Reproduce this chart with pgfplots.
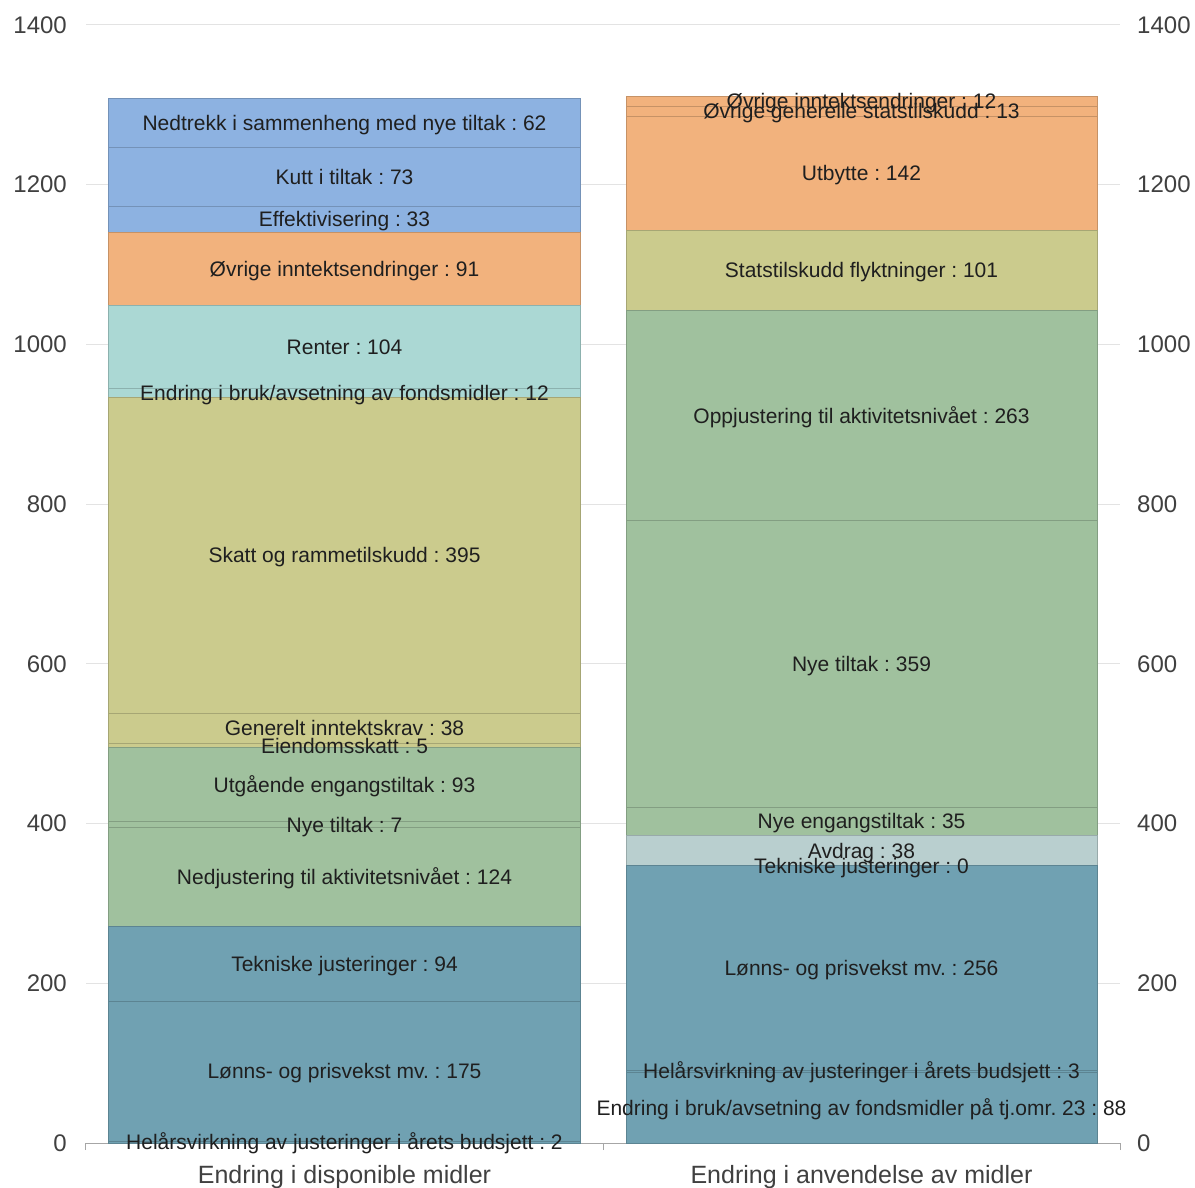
\documentclass[border=0pt]{standalone}
\usepackage{fontspec}
\setmainfont{Liberation Sans}
\usepackage{pgfplots}
\pgfplotsset{compat=1.18}
\frenchspacing
\definecolor{cSteel}{RGB}{112,161,178}
\definecolor{cGreen}{RGB}{160,193,158}
\definecolor{cYellow}{RGB}{203,203,141}
\definecolor{cTeal}{RGB}{171,216,212}
\definecolor{cOrange}{RGB}{242,178,125}
\definecolor{cBlue}{RGB}{141,178,225}
\definecolor{cGrey}{RGB}{185,207,207}
\definecolor{tickc}{RGB}{64,64,64}
\tikzset{
  seg/.style={fill=#1, draw=#1!82!black, line width=1pt},
  lbl/.style={font=\fontsize{21}{25}\selectfont, text=black!88, anchor=base, inner sep=0pt, yshift=-7.3pt}
}
\begin{document}
\begin{tikzpicture}
\path[use as bounding box] (-86pt,-44pt) rectangle (1109pt,1143pt);
\begin{axis}[
  clip=false,
  scale only axis, width=1034pt, height=1118pt,
  xmin=-0.5, xmax=1.5, ymin=0, ymax=1400,
  ybar stacked, bar width=471pt,
  axis x line*=bottom, axis y line*=left,
  y axis line style={draw=none},
  x axis line style={draw=black!35, line width=1pt},
  ytick={0,200,...,1400},
  ymajorgrids, grid style={draw=black!11, line width=1pt},
  major tick length=0pt,
  xtick={0,1},
  xticklabels={Endring i disponible midler, Endring i anvendelse av midler},
  extra x ticks={-0.5,0.5,1.5}, extra x tick labels={},
  extra x tick style={major tick length=7pt, tick align=outside, major tick style={draw=black!35, line width=1pt}},
  tick label style={font=\fontsize{24}{28}\selectfont, text=tickc},
  xticklabel style={font=\fontsize{25}{29}\selectfont, anchor=base, inner sep=0pt, yshift=-40pt},
  yticklabel style={anchor=east, inner sep=0pt, xshift=-19pt},
  /pgf/number format/1000 sep={},
  /pgf/number format/assume math mode=true,
  scaled y ticks=false,
]
% Endring i disponible midler (x = 0)
\addplot[seg=cSteel]  coordinates {(0,2) (1,0)};
\addplot[seg=cSteel]  coordinates {(0,175) (1,0)};
\addplot[seg=cSteel]  coordinates {(0,94) (1,0)};
\addplot[seg=cGreen]  coordinates {(0,124) (1,0)};
\addplot[seg=cGreen]  coordinates {(0,7) (1,0)};
\addplot[seg=cGreen]  coordinates {(0,93) (1,0)};
\addplot[seg=cYellow] coordinates {(0,5) (1,0)};
\addplot[seg=cYellow] coordinates {(0,38) (1,0)};
\addplot[seg=cYellow] coordinates {(0,395) (1,0)};
\addplot[seg=cTeal]   coordinates {(0,12) (1,0)};
\addplot[seg=cTeal]   coordinates {(0,104) (1,0)};
\addplot[seg=cOrange] coordinates {(0,91) (1,0)};
\addplot[seg=cBlue]   coordinates {(0,33) (1,0)};
\addplot[seg=cBlue]   coordinates {(0,73) (1,0)};
\addplot[seg=cBlue]   coordinates {(0,62) (1,0)};
% Endring i anvendelse av midler (x = 1)
\addplot[seg=cSteel]  coordinates {(0,0) (1,88)};
\addplot[seg=cSteel]  coordinates {(0,0) (1,3)};
\addplot[seg=cSteel]  coordinates {(0,0) (1,256)};
\addplot[seg=cSteel]  coordinates {(0,0) (1,0)};
\addplot[seg=cGrey]   coordinates {(0,0) (1,38)};
\addplot[seg=cGreen]  coordinates {(0,0) (1,35)};
\addplot[seg=cGreen]  coordinates {(0,0) (1,359)};
\addplot[seg=cGreen]  coordinates {(0,0) (1,263)};
\addplot[seg=cYellow] coordinates {(0,0) (1,101)};
\addplot[seg=cOrange] coordinates {(0,0) (1,142)};
\addplot[seg=cOrange] coordinates {(0,0) (1,13)};
\addplot[seg=cOrange] coordinates {(0,0) (1,12)};
% label anchors (segment centres), left
\coordinate (l1) at (axis cs:0,1);
\coordinate (l2) at (axis cs:0,89.5);
\coordinate (l3) at (axis cs:0,224);
\coordinate (l4) at (axis cs:0,333);
\coordinate (l5) at (axis cs:0,398.5);
\coordinate (l6) at (axis cs:0,448.5);
\coordinate (l7) at (axis cs:0,497.5);
\coordinate (l8) at (axis cs:0,519);
\coordinate (l9) at (axis cs:0,735.5);
\coordinate (l10) at (axis cs:0,939);
\coordinate (l11) at (axis cs:0,997);
\coordinate (l12) at (axis cs:0,1094.5);
\coordinate (l13) at (axis cs:0,1156.5);
\coordinate (l14) at (axis cs:0,1209.5);
\coordinate (l15) at (axis cs:0,1277);
% right
\coordinate (r1) at (axis cs:1,44);
\coordinate (r2) at (axis cs:1,89.5);
\coordinate (r3) at (axis cs:1,219);
\coordinate (r4) at (axis cs:1,347);
\coordinate (r5) at (axis cs:1,366);
\coordinate (r6) at (axis cs:1,402.5);
\coordinate (r7) at (axis cs:1,599.5);
\coordinate (r8) at (axis cs:1,910.5);
\coordinate (r9) at (axis cs:1,1092.5);
\coordinate (r10) at (axis cs:1,1214);
\coordinate (r11) at (axis cs:1,1291.5);
\coordinate (r12) at (axis cs:1,1304);
\end{axis}
\begin{axis}[
  scale only axis, width=1034pt, height=1118pt,
  xmin=-0.5, xmax=1.5, ymin=0, ymax=1400,
  hide x axis, axis y line*=right,
  y axis line style={draw=none},
  ytick={0,200,...,1400}, major tick length=0pt,
  tick label style={font=\fontsize{24}{28}\selectfont, text=tickc},
  yticklabel style={anchor=west, inner sep=0pt, xshift=17pt},
  /pgf/number format/1000 sep={},
  /pgf/number format/assume math mode=true,
  scaled y ticks=false,
]
\end{axis}
\node[lbl] at (l1) {Helårsvirkning av justeringer i årets budsjett : 2};
\node[lbl] at (l2) {Lønns- og prisvekst mv. : 175};
\node[lbl] at (l3) {Tekniske justeringer : 94};
\node[lbl] at (l4) {Nedjustering til aktivitetsnivået : 124};
\node[lbl] at (l5) {Nye tiltak : 7};
\node[lbl] at (l6) {Utgående engangstiltak : 93};
\node[lbl] at (l7) {Eiendomsskatt : 5};
\node[lbl] at (l8) {Generelt inntektskrav : 38};
\node[lbl] at (l9) {Skatt og rammetilskudd : 395};
\node[lbl] at (l10) {Endring i bruk/avsetning av fondsmidler : 12};
\node[lbl] at (l11) {Renter : 104};
\node[lbl] at (l12) {Øvrige inntektsendringer : 91};
\node[lbl] at (l13) {Effektivisering : 33};
\node[lbl] at (l14) {Kutt i tiltak : 73};
\node[lbl] at (l15) {Nedtrekk i sammenheng med nye tiltak : 62};
\node[lbl] at (r1) {Endring i bruk/avsetning av fondsmidler på tj.omr. 23 : 88};
\node[lbl] at (r2) {Helårsvirkning av justeringer i årets budsjett : 3};
\node[lbl] at (r3) {Lønns- og prisvekst mv. : 256};
\node[lbl] at (r4) {Tekniske justeringer : 0};
\node[lbl] at (r5) {Avdrag : 38};
\node[lbl] at (r6) {Nye engangstiltak : 35};
\node[lbl] at (r7) {Nye tiltak : 359};
\node[lbl] at (r8) {Oppjustering til aktivitetsnivået : 263};
\node[lbl] at (r9) {Statstilskudd flyktninger : 101};
\node[lbl] at (r10) {Utbytte : 142};
\node[lbl] at (r11) {Øvrige generelle statstilskudd : 13};
\node[lbl] at (r12) {Øvrige inntektsendringer : 12};
\end{tikzpicture}
\end{document}
